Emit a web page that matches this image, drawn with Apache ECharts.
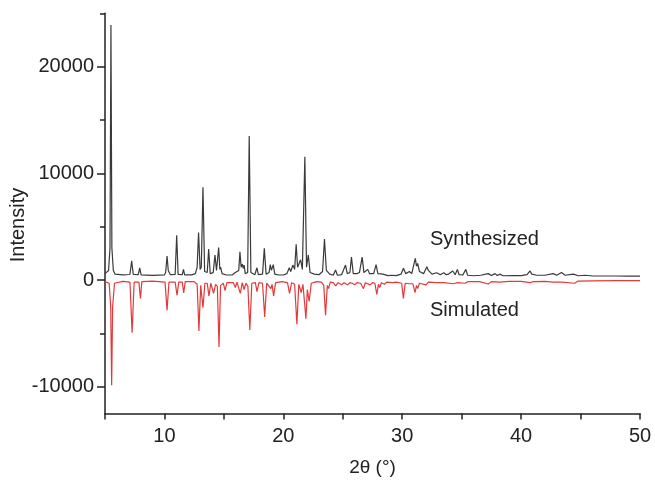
<!DOCTYPE html>
<html>
<head>
<meta charset="utf-8">
<script src="https://cdn.jsdelivr.net/npm/echarts@6/dist/echarts.min.js"></script>
<style>html,body{margin:0;padding:0;background:#fff}#c{width:655px;height:484px}</style>
</head>
<body>
<div id="c"></div>
<script>
// 2θ (°), intensity
const synthesized = [
[5.0,600],[5.3,900],[5.42,3000],[5.5,23900],[5.58,3000],[5.7,900],[5.85,550],[6.5,480],[7.1,520],[7.24,1800],[7.38,520],
[7.8,500],[7.92,1150],[8.04,480],[9.0,440],[10.0,480],[10.1,700],[10.22,2250],[10.32,900],[10.4,1000],[10.5,500],
[10.9,520],[11.03,4200],[11.15,520],[11.5,500],[11.6,1000],[11.7,480],[12.3,480],[12.6,600],[12.75,1200],[12.87,4450],
[13.0,1000],[13.1,1200],[13.24,8700],[13.38,800],[13.6,700],[13.72,2900],[13.85,600],[14.1,700],[14.25,2350],[14.38,900],
[14.56,3050],[14.66,1000],[14.72,1200],[14.85,600],[15.2,470],[15.7,480],[15.9,650],[16.05,500],[16.25,900],[16.35,2650],
[16.45,1200],[16.55,1500],[16.63,1100],[16.7,1400],[16.8,600],[17.0,700],[17.13,13500],[17.27,700],[17.6,500],[17.78,1150],
[17.9,500],[18.25,550],[18.4,2970],[18.55,550],[18.8,700],[18.9,1450],[19.0,900],[19.15,1450],[19.28,550],[19.6,470],
[20.0,470],[20.3,600],[20.5,1150],[20.62,800],[20.8,1400],[20.95,1000],[21.08,3350],[21.2,1200],[21.3,1100],[21.45,1900],
[21.6,1000],[21.81,11550],[21.95,1200],[22.1,2350],[22.25,700],[22.6,550],[23.0,500],[23.3,800],[23.46,3850],[23.62,900],
[23.9,550],[24.2,450],[24.39,950],[24.55,450],[24.9,500],[25.23,1400],[25.38,600],[25.6,700],[25.73,2150],[25.88,600],
[26.2,600],[26.4,700],[26.63,2150],[26.78,700],[27.1,1000],[27.25,600],[27.6,600],[27.8,1450],[27.95,600],[28.37,550],
[28.8,420],[29.1,450],[29.5,420],[29.9,550],[30.1,1100],[30.3,600],[30.6,800],[30.8,600],[31.1,2030],[31.2,1300],
[31.3,1550],[31.45,800],[31.8,600],[32.07,1250],[32.2,900],[32.3,1000],[32.5,550],[32.9,680],[33.2,500],[33.5,680],
[33.7,500],[33.9,560],[34.05,480],[34.25,850],[34.45,500],[34.64,1000],[34.78,500],[34.9,560],[35.1,480],[35.35,1000],
[35.5,450],[36.0,400],[36.6,450],[37.24,600],[37.5,420],[37.8,600],[38.0,420],[38.2,550],[38.5,400],[39.3,420],
[40.0,420],[40.5,500],[40.75,850],[40.9,550],[41.0,650],[41.3,450],[42.0,450],[42.7,600],[43.0,450],[43.4,700],
[43.7,450],[44.4,550],[44.8,400],[45.4,450],[46.0,380],[47.0,380],[48.0,380],[49.0,360],[50.0,375]
];
const simulated = [
[5.0,-150],[5.35,-300],[5.48,-2500],[5.56,-9870],[5.64,-2500],[5.8,-300],[6.5,-120],[7.1,-200],[7.28,-4940],[7.45,-200],
[7.85,-200],[7.98,-1720],[8.1,-150],[9.0,-100],[10.05,-200],[10.22,-2840],[10.38,-200],[10.9,-200],[11.06,-1430],[11.2,-200],
[11.5,-200],[11.62,-1200],[11.75,-150],[12.5,-150],[12.75,-400],[12.9,-4780],[13.05,-500],[13.24,-2600],[13.4,-300],[13.6,-300],
[13.74,-1500],[13.9,-300],[14.13,-1240],[14.3,-400],[14.45,-600],[14.59,-6280],[14.72,-500],[14.95,-300],[15.1,-1000],[15.25,-250],
[15.8,-250],[15.96,-700],[16.1,-200],[16.38,-1250],[16.55,-250],[16.7,-900],[16.85,-300],[17.02,-600],[17.18,-4690],[17.35,-300],
[17.65,-250],[17.78,-1080],[17.95,-250],[18.25,-300],[18.43,-3470],[18.6,-300],[18.95,-810],[19.05,-400],[19.18,-1500],[19.35,-250],
[19.9,-150],[20.35,-250],[20.52,-1250],[20.7,-250],[20.95,-400],[21.14,-4150],[21.3,-400],[21.5,-1170],[21.65,-400],[21.9,-3620],
[22.02,-900],[22.17,-2000],[22.35,-300],[22.8,-150],[23.2,-200],[23.4,-500],[23.55,-3300],[23.7,-500],[23.8,-800],[23.95,-200],
[24.2,-250],[24.4,-550],[24.6,-250],[24.9,-450],[25.1,-250],[25.4,-450],[25.6,-250],[25.8,-300],[26.0,-450],[26.2,-250],
[26.5,-300],[26.74,-810],[26.9,-250],[27.3,-450],[27.5,-250],[27.7,-300],[27.86,-1340],[28.0,-400],[28.1,-700],[28.25,-250],
[28.5,-400],[28.7,-200],[29.2,-250],[29.5,-200],[29.95,-300],[30.1,-1720],[30.25,-300],[30.6,-350],[30.9,-350],[31.08,-1190],
[31.2,-500],[31.3,-800],[31.45,-300],[32.0,-450],[32.2,-200],[32.9,-250],[33.5,-250],[34.3,-350],[34.6,-250],[35.3,-300],
[35.5,-150],[36.5,-150],[37.24,-375],[37.5,-150],[38.2,-200],[39.0,-120],[40.0,-120],[40.75,-250],[41.0,-150],[42.0,-120],
[42.7,-200],[43.4,-200],[44.5,-300],[44.8,-100],[46.0,-80],[48.0,-60],[50.0,-60]
];
const yLabelValues = [-10000, 0, 10000, 20000];
const yMinorTicks = [-5000, 5000, 15000, 25000];
const xLabelValues = [10, 20, 30, 40, 50];
const seriesNames = ['Synthesized', 'Simulated'];

const FONT = '"Liberation Sans", Arial, sans-serif';
const chart = echarts.init(document.getElementById('c'), null, {renderer: 'canvas'});
chart.setOption({
  animation: false,
  backgroundColor: '#fff',
  grid: {left: 105, right: 15, top: 13.3, bottom: 70.6, containLabel: false},
  xAxis: {
    type: 'value', min: 5, max: 50, interval: 5,
    name: '2θ (°)', nameLocation: 'middle', nameGap: 45,
    nameTextStyle: {fontFamily: FONT, fontSize: 19, color: '#222'},
    axisLine: {onZero: false, lineStyle: {color: '#222', width: 1.5}},
    axisTick: {length: 6, lineStyle: {color: '#222', width: 1.5}},
    axisLabel: {fontFamily: FONT, fontSize: 20, color: '#222', margin: 13,
      customValues: xLabelValues, formatter: v => String(v)},
    splitLine: {show: false}
  },
  yAxis: [{
    type: 'value', min: -12500, max: 25000,
    axisLine: {show: true, onZero: false, lineStyle: {color: '#222', width: 1.5}},
    axisTick: {show: true, length: 8, customValues: yLabelValues, lineStyle: {color: '#222', width: 1.5}},
    axisLabel: {fontFamily: FONT, fontSize: 20, color: '#222', margin: 11, customValues: yLabelValues,
      formatter: v => String(v)},
    splitLine: {show: false}
  }, {
    type: 'value', min: -12500, max: 25000, position: 'left',
    axisLine: {show: false, onZero: false},
    axisTick: {show: true, length: 5, customValues: yMinorTicks, lineStyle: {color: '#222', width: 1.5}},
    axisLabel: {show: false},
    splitLine: {show: false}
  }],
  series: [{
    name: seriesNames[0], type: 'line', data: synthesized, symbol: 'none',
    lineStyle: {color: '#3a3a3a', width: 1.2}, z: 3
  }, {
    name: seriesNames[1], type: 'line', data: simulated, symbol: 'none',
    lineStyle: {color: '#e23a3a', width: 1.2}, z: 2
  }],
  graphic: [
    {type: 'text', x: 18, y: 225, rotation: Math.PI / 2,
      style: {text: 'Intensity', font: '20px ' + FONT, fill: '#222', align: 'center', verticalAlign: 'middle'}},
    {type: 'text', x: 430, y: 239,
      style: {text: seriesNames[0], font: '20px ' + FONT, fill: '#222', align: 'left', verticalAlign: 'middle'}},
    {type: 'text', x: 430, y: 310,
      style: {text: seriesNames[1], font: '20px ' + FONT, fill: '#222', align: 'left', verticalAlign: 'middle'}}
  ]
});
</script>
</body>
</html>
